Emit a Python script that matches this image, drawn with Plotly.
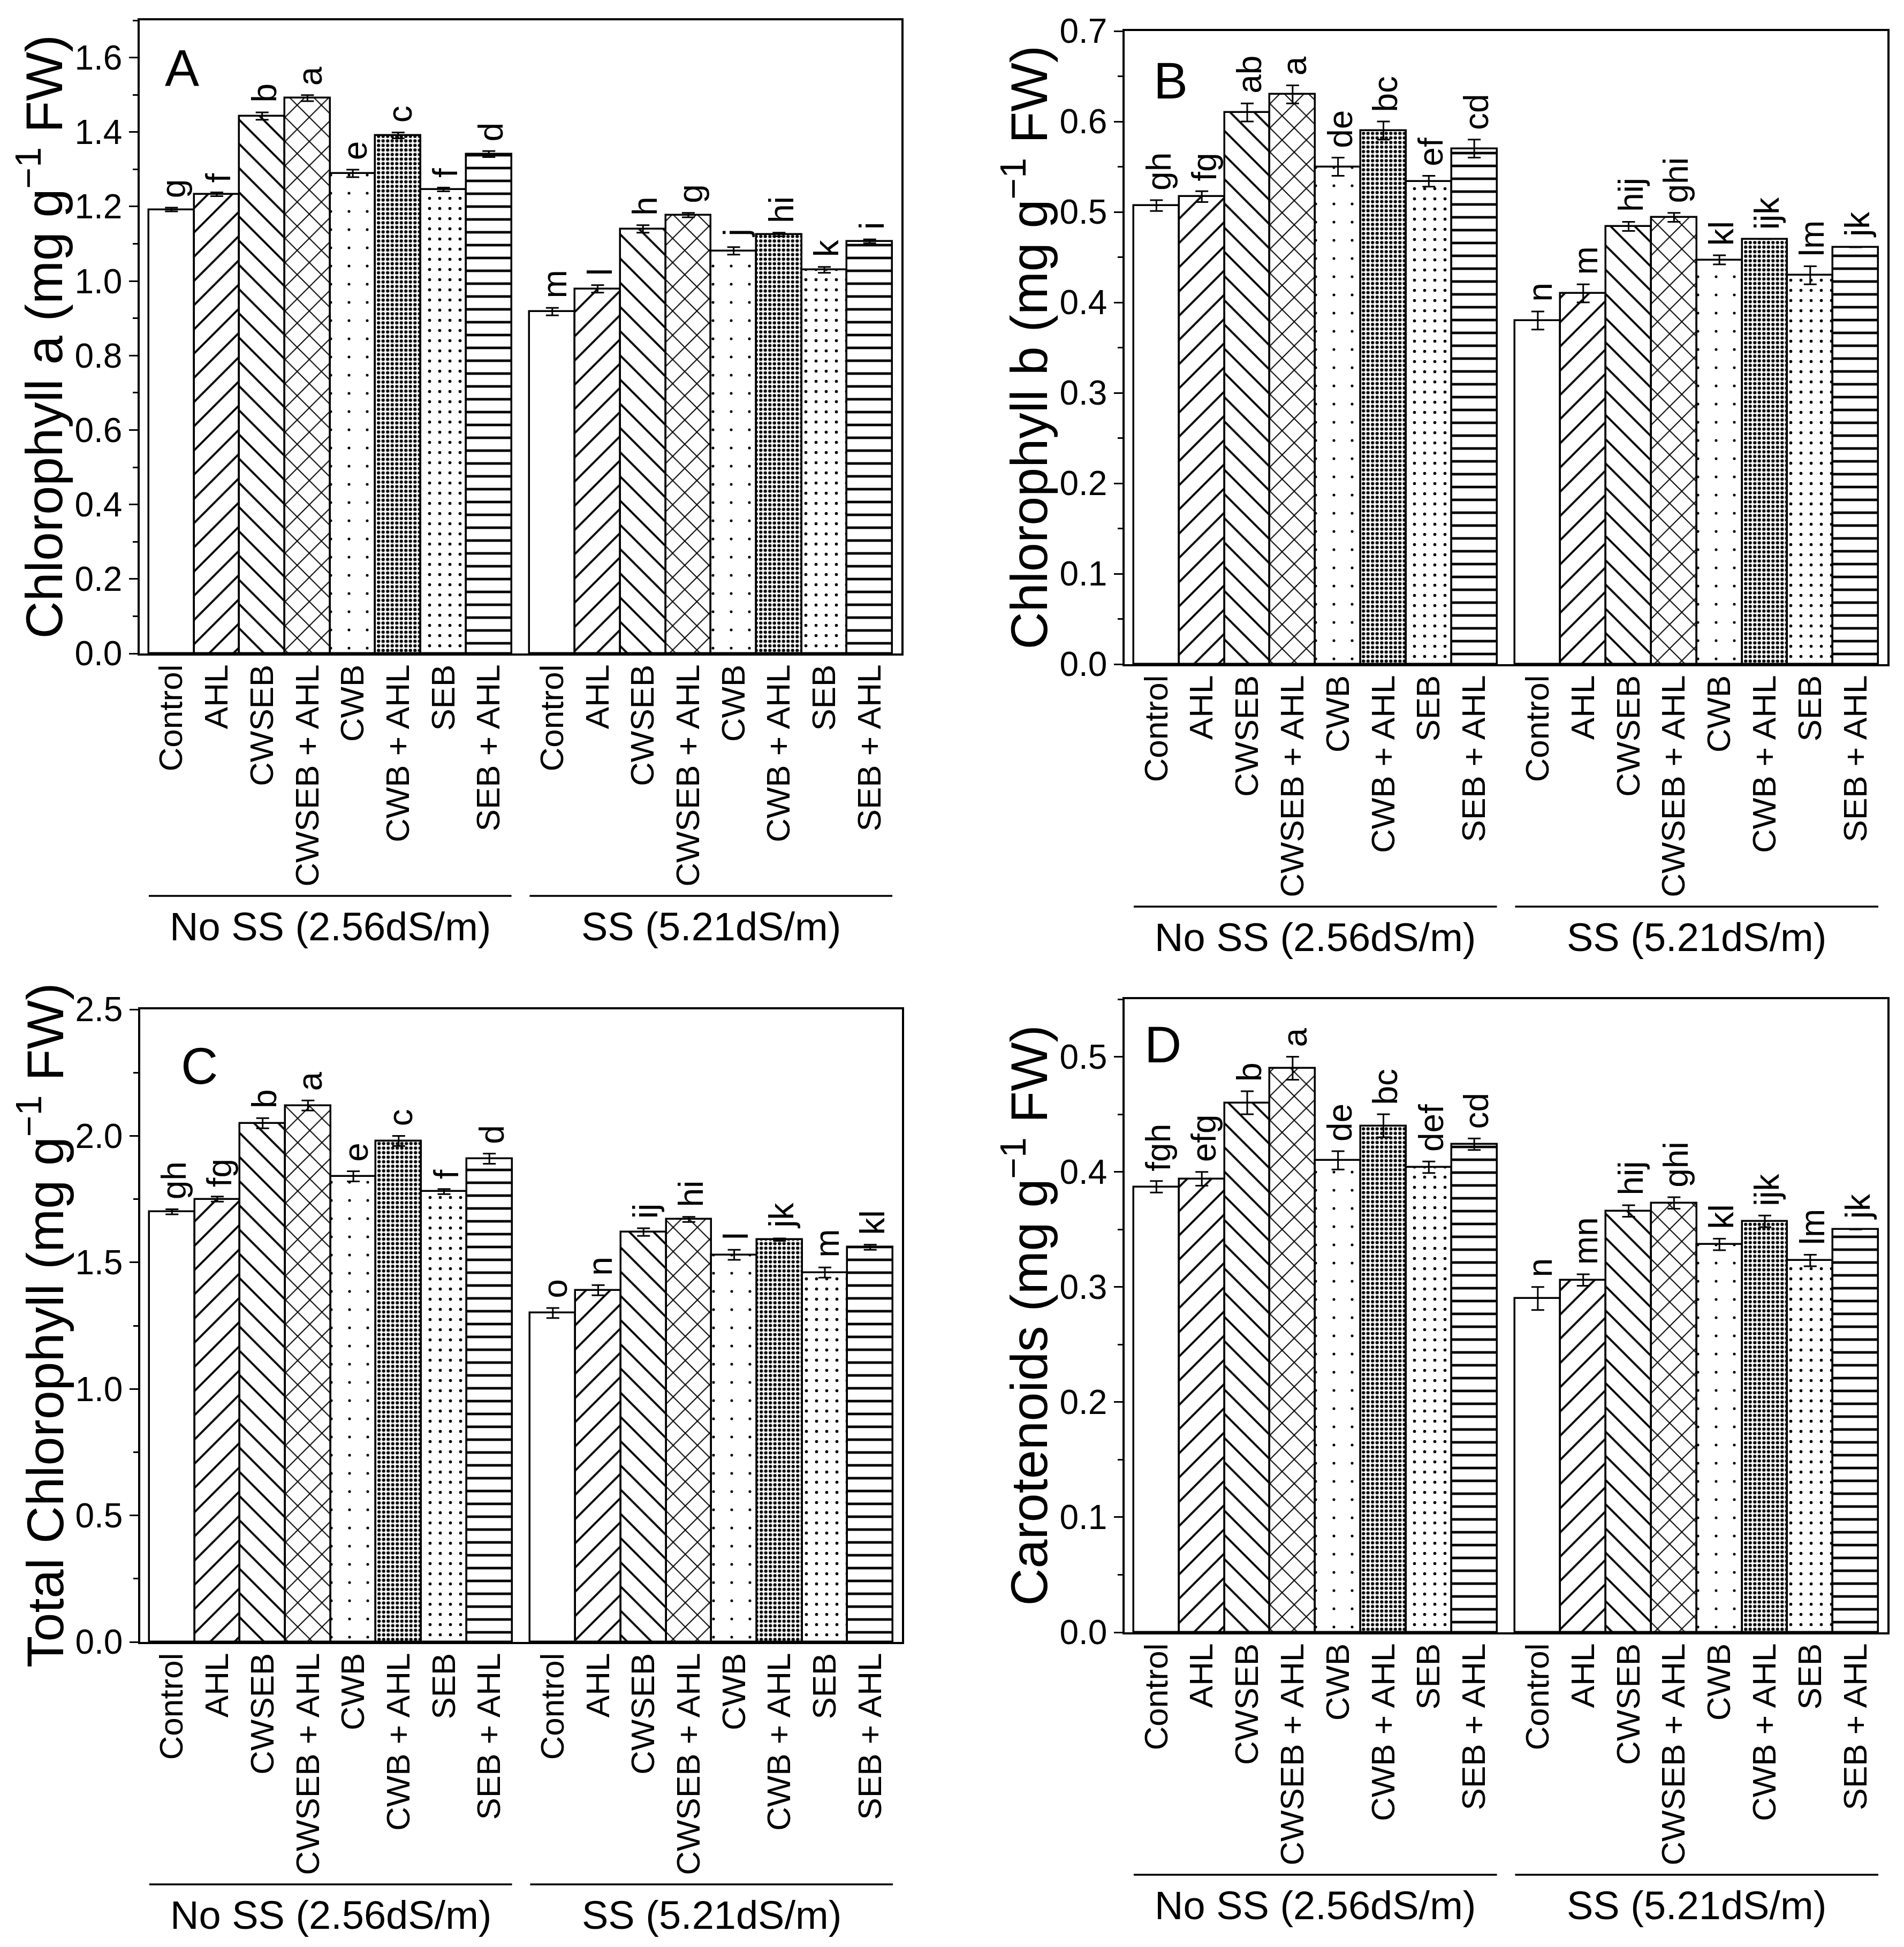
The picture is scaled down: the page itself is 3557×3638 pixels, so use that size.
import plotly.graph_objects as go

W, H = 3557, 3638
FONT = "Liberation Sans, Arial, sans-serif"

# ---------------- data ----------------
categories = ["Control", "AHL", "CWSEB", "CWSEB + AHL", "CWB", "CWB + AHL", "SEB", "SEB + AHL"]
groups = ["No SS (2.56dS/m)", "SS (5.21dS/m)"]

chl_a = [1.192, 1.233, 1.443, 1.491, 1.289, 1.391, 1.246, 1.341,
         0.918, 0.979, 1.140, 1.177, 1.081, 1.125, 1.030, 1.107]
chl_a_err = [0.005, 0.005, 0.010, 0.008, 0.010, 0.008, 0.005, 0.008,
             0.010, 0.010, 0.010, 0.006, 0.010, 0.005, 0.008, 0.005]
chl_a_letters = ["g", "f", "b", "a", "e", "c", "f", "d",
                 "m", "l", "h", "g", "j", "hi", "k", "i"]

chl_b = [0.507, 0.517, 0.610, 0.630, 0.550, 0.590, 0.534, 0.570,
         0.380, 0.410, 0.484, 0.494, 0.447, 0.470, 0.430, 0.461]
chl_b_err = [0.006, 0.006, 0.010, 0.010, 0.010, 0.010, 0.006, 0.010,
             0.010, 0.010, 0.005, 0.005, 0.005, 0.0, 0.010, 0.0]
chl_b_letters = ["gh", "fg", "ab", "a", "de", "bc", "ef", "cd",
                 "n", "m", "hij", "ghi", "kl", "ijk", "lm", "jk"]

chl_t = [1.70, 1.75, 2.05, 2.12, 1.84, 1.98, 1.78, 1.91,
         1.30, 1.39, 1.62, 1.67, 1.53, 1.59, 1.46, 1.56]
chl_t_err = [0.01, 0.01, 0.02, 0.02, 0.02, 0.02, 0.01, 0.02,
             0.02, 0.02, 0.015, 0.01, 0.02, 0.005, 0.02, 0.01]
chl_t_letters = ["gh", "fg", "b", "a", "e", "c", "f", "d",
                 "o", "n", "ij", "hi", "l", "jk", "m", "kl"]

carot = [0.387, 0.394, 0.460, 0.490, 0.410, 0.440, 0.404, 0.424,
         0.290, 0.306, 0.366, 0.373, 0.337, 0.357, 0.323, 0.350]
carot_err = [0.005, 0.006, 0.010, 0.010, 0.008, 0.010, 0.005, 0.005,
             0.010, 0.005, 0.005, 0.005, 0.005, 0.005, 0.005, 0.0]
carot_letters = ["fgh", "efg", "b", "a", "de", "bc", "def", "cd",
                 "n", "mn", "hij", "ghi", "kl", "ijk", "lm", "jk"]

# ---------------- styling ----------------
pat_shape = ["", "/", "\\", "x", ".", ".", ".", "-"]
pat_size = [10, 32, 32, 32, 34, 8.5, 19, 24]
pat_solid = [0.1, 0.12, 0.12, 0.12, 0.018, 0.42, 0.07, 0.2]

GAP = 0.4
pos = [i for i in range(8)] + [8 + GAP + i for i in range(8)]
XRANGE = [-0.7, pos[-1] + 0.7]

# panel geometry in pixels: left, right, top, bottom
panels = [
    dict(name="A", vals=chl_a, err=chl_a_err, let=chl_a_letters,
         title="Chlorophyll a (mg g<sup>\u22121</sup> FW)",
         rng=[0, 1.7], dtick=0.2, mdtick=0.1,
         box=(261, 1684, 38, 1221), lab=(49, 51)),
    dict(name="B", vals=chl_b, err=chl_b_err, let=chl_b_letters,
         title="Chlorophyll b (mg g<sup>\u22121</sup> FW)",
         rng=[0, 0.7], dtick=0.1, mdtick=0.05,
         box=(2101, 3526, 58, 1241), lab=(56, 55)),
    dict(name="C", vals=chl_t, err=chl_t_err, let=chl_t_letters,
         title="Total Chlorophyll (mg g<sup>\u22121</sup> FW)",
         rng=[0, 2.5], dtick=0.5, mdtick=0.25,
         box=(262, 1685, 1886, 3068), lab=(78, 68)),
    dict(name="D", vals=carot, err=carot_err, let=carot_letters,
         title="Carotenoids (mg g<sup>\u22121</sup> FW)",
         rng=[0, 0.55], dtick=0.1, mdtick=0.05,
         box=(2101, 3526, 1867, 3050), lab=(39, 47)),
]

fig = go.Figure()
annotations = []
shapes = []

for k, p in enumerate(panels):
    xa = "x" if k == 0 else f"x{k+1}"
    ya = "y" if k == 0 else f"y{k+1}"
    L, R, T, B = p["box"]
    fig.add_trace(go.Bar(
        x=pos, y=p["vals"], width=[1] * 16,
        xaxis=xa, yaxis=ya,
        marker=dict(
            color="white",
            line=dict(color="black", width=3.5),
            pattern=dict(shape=pat_shape * 2, size=pat_size * 2,
                         solidity=pat_solid * 2, fgcolor="black",
                         bgcolor="white", fgopacity=1),
        ),
        error_y=dict(type="data", array=p["err"], visible=True,
                     color="black", thickness=3, width=12),
        showlegend=False,
    ))
    xkey = "xaxis" if k == 0 else f"xaxis{k+1}"
    ykey = "yaxis" if k == 0 else f"yaxis{k+1}"
    fig.update_layout(**{
        xkey: dict(domain=[L / W, R / W], anchor=ya, range=XRANGE,
                   tickmode="array", tickvals=pos, ticktext=categories * 2,
                   tickangle=-90, ticks="", showgrid=False, zeroline=False,
                   showline=True, mirror=True, linecolor="black", linewidth=3.5,
                   automargin=False, ticklabelstandoff=-8,
                   tickfont=dict(family=FONT, size=62, color="black")),
        ykey: dict(domain=[1 - B / H, 1 - T / H], anchor=xa, range=p["rng"],
                   dtick=p["dtick"], tick0=0, tickformat=".1f",
                   ticks="outside", ticklen=16, tickwidth=3, tickcolor="black",
                   minor=dict(dtick=p["mdtick"], ticks="outside", ticklen=9,
                              tickwidth=3, tickcolor="black"),
                   showgrid=False, zeroline=False, showline=True, mirror=True,
                   linecolor="black", linewidth=3.5, automargin=False,
                   tickfont=dict(family=FONT, size=64, color="black")),
    })

    # significance letters
    for i in range(16):
        annotations.append(dict(
            x=pos[i], y=p["vals"][i] + p["err"][i], xref=xa, yref=ya,
            text=p["let"][i], textangle=-90, showarrow=False,
            xanchor="center", yanchor="bottom", yshift=16, xshift=4,
            font=dict(family=FONT, size=64, color="black")))

    # y-axis title
    annotations.append(dict(
        x=(L - 185) / W, y=1 - ((T + B) / 2) / H, xref="paper", yref="paper",
        text=p["title"], textangle=-90, showarrow=False,
        xanchor="center", yanchor="middle",
        font=dict(family=FONT, size=97, color="black")))

    # panel letter
    annotations.append(dict(
        x=(L + p["lab"][0] - 4) / W, y=1 - (T + p["lab"][1] - 18) / H,
        xref="paper", yref="paper", text=p["name"], showarrow=False,
        xanchor="left", yanchor="top",
        font=dict(family=FONT, size=96, color="black")))

    # group lines and labels
    line_y = B + 453
    for g in range(2):
        x0 = pos[g * 8] - 0.5
        x1 = pos[g * 8 + 7] + 0.5
        shapes.append(dict(type="line", xref=xa, yref="paper",
                           x0=x0, x1=x1, y0=1 - line_y / H, y1=1 - line_y / H,
                           line=dict(color="black", width=3.5)))
        annotations.append(dict(
            x=(x0 + x1) / 2, y=1 - line_y / H, xref=xa, yref="paper",
            text=groups[g], showarrow=False, xanchor="center", yanchor="top",
            yshift=-14, font=dict(family=FONT, size=74, color="black")))

fig.update_layout(
    template="none",
    width=W, height=H, autosize=False,
    margin=dict(l=0, r=0, t=0, b=0, pad=0),
    paper_bgcolor="white", plot_bgcolor="white",
    bargap=0, barmode="group",
    annotations=annotations, shapes=shapes,
    font=dict(family=FONT, color="black"),
)

fig.write_html("out.html")
